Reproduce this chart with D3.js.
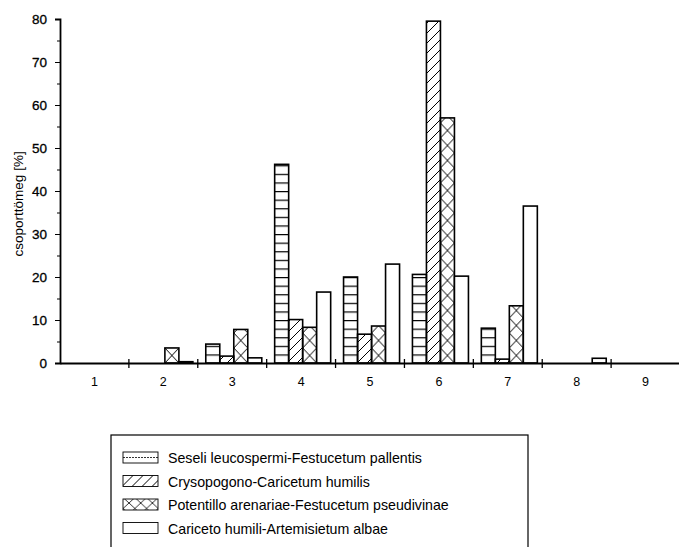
<!doctype html>
<html lang="en">
  <head>
    <meta charset="utf-8">
    <title>csoporttömeg</title>
    <script src="https://d3js.org/d3.v7.min.js"></script>
    <style>
    body { margin: 0; background: #fff; }
    svg { font-family: "Liberation Sans", Arial, sans-serif; }
    .axis path, .axis line { stroke: #000; }
    .axis text { fill: #000; font-size: 12.5px; }
    </style>
  </head>
  <body>
    <svg width="679" height="547"></svg>
    <script>
      var categories = ['1', '2', '3', '4', '5', '6', '7', '8', '9'];
      var seriesNames = [
        'Seseli leucospermi-Festucetum pallentis',
        'Crysopogono-Caricetum humilis',
        'Potentillo arenariae-Festucetum pseudivinae',
        'Cariceto humili-Artemisietum albae'
      ];
      var seseli      = [0, 0,   4.4, 46.2, 20,  20.6, 8.1,  0,   0];
      var crysopogono = [0, 0,   1.6, 10.1, 6.7, 79.5, 0.9,  0,   0];
      var potentillo  = [0, 3.5, 7.8, 8.3,  8.6, 57,   13.3, 0,   0];
      var cariceto    = [0, 0.3, 1.2, 16.5, 23,  20.2, 36.5, 1.1, 0];
      var yTicks = [0, 10, 20, 30, 40, 50, 60, 70, 80];
      var seriesValues = [seseli, crysopogono, potentillo, cariceto];

      var svg = d3.select('svg');
      var defs = svg.append('defs');

      var x = d3.scaleBand().domain(categories).range([60, 680]);
      var inner = d3.scaleBand().domain(d3.range(4)).range([8, 64]);
      var y = d3.scaleLinear().domain([0, 80]).range([363, 19]);

      // hatch patterns
      var hPat = defs.append('pattern').attr('id', 'hatch-h')
        .attr('patternUnits', 'userSpaceOnUse')
        .attr('width', 10).attr('height', 8.6).attr('y', y(0));
      hPat.append('line').attr('x1', 0).attr('x2', 10).attr('y1', 0.5).attr('y2', 0.5)
        .attr('stroke', '#000').attr('stroke-width', 1.4);

      var dPat = defs.append('pattern').attr('id', 'hatch-d')
        .attr('patternUnits', 'userSpaceOnUse')
        .attr('width', 10).attr('height', 10);
      dPat.append('path').attr('d', 'M-2,12 L12,-2 M-2,2 L2,-2 M8,12 L12,8')
        .attr('stroke', '#000').attr('stroke-width', 1);

      categories.forEach(function(c, i){
        var w = inner.bandwidth();
        var p = defs.append('pattern').attr('id', 'hatch-x' + i)
          .attr('patternUnits', 'userSpaceOnUse')
          .attr('x', x(c) + inner(2)).attr('y', y(0))
          .attr('width', w).attr('height', 15);
        p.append('path').attr('d', 'M0,0 L' + w + ',15 M' + w + ',0 L0,15')
          .attr('stroke', '#000').attr('stroke-width', 1);
      });

      var legX = defs.append('pattern').attr('id', 'hatch-xl')
        .attr('patternUnits', 'userSpaceOnUse')
        .attr('width', 11.7).attr('height', 11).attr('x', 123).attr('y', 499);
      legX.append('path').attr('d', 'M0,0 L11.7,11 M11.7,0 L0,11')
        .attr('stroke', '#000').attr('stroke-width', 0.8);

      function fillFor(s, i){
        if (s === 0) return 'url(#hatch-h)';
        if (s === 1) return 'url(#hatch-d)';
        if (s === 2) return 'url(#hatch-x' + i + ')';
        return '#fff';
      }

      // bars
      seriesValues.forEach(function(vals, s){
        svg.append('g').selectAll('rect')
          .data(vals.map(function(v, i){ return {v: v, i: i}; }).filter(function(d){ return d.v > 0; }))
          .enter().append('rect')
            .attr('x', function(d){ return x(categories[d.i]) + inner(s); })
            .attr('width', inner.bandwidth())
            .attr('y', function(d){ return y(d.v); })
            .attr('height', function(d){ return y(0) - y(d.v); })
            .attr('fill', function(d){ return fillFor(s, d.i); })
            .attr('stroke', '#000')
            .attr('stroke-width', 1.6);
      });

      // y axis
      svg.append('g').attr('class', 'axis')
        .attr('transform', 'translate(60,0)')
        .call(d3.axisLeft(y).tickValues(yTicks).tickSize(5).tickPadding(8))
        .call(function(g){ g.select('.domain').attr('stroke-width', 1.8); })
        .selectAll('text').style('font-size', '13.5px').attr('stroke', '#000').attr('stroke-width', 0.3);

      svg.append('g').attr('class', 'axis')
        .attr('transform', 'translate(60,0)')
        .call(d3.axisLeft(y).tickValues(d3.range(5, 80, 10)).tickSize(3).tickFormat(''))
        .select('.domain').remove();

      // x axis
      svg.append('g').attr('class', 'axis')
        .attr('transform', 'translate(0,' + y(0) + ')')
        .call(d3.axisBottom(x).tickSize(0).tickPadding(14).tickSizeOuter(0))
        .call(function(g){ g.select('.domain').attr('stroke-width', 1.8); });

      svg.append('g').selectAll('line')
        .data(categories.slice(0, 8))
        .enter().append('line')
          .attr('x1', function(d){ return x(d) + x.bandwidth(); })
          .attr('x2', function(d){ return x(d) + x.bandwidth(); })
          .attr('y1', y(0) - 4).attr('y2', y(0) + 5)
          .attr('stroke', '#000').attr('stroke-width', 1.3);

      svg.append('text')
        .attr('transform', 'translate(23,' + y(37) + ') rotate(-90)')
        .attr('text-anchor', 'middle')
        .style('font-size', '13.5px')
        .text('csoporttömeg [%]');

      // legend
      var legend = svg.append('g');
      legend.append('rect').attr('x', 111).attr('y', 435)
        .attr('width', 417).attr('height', 130)
        .attr('fill', 'none').attr('stroke', '#000').attr('stroke-width', 1.2);

      var legFills = ['none', 'url(#hatch-d)', 'url(#hatch-xl)', '#fff'];
      var row = legend.selectAll('g.row').data(seriesNames).enter()
        .append('g').attr('class', 'row')
        .attr('transform', function(d, i){ return 'translate(123,' + (452 + i * 23.5) + ')'; });
      row.append('rect').attr('width', 35).attr('height', 11)
        .attr('fill', function(d, i){ return legFills[i]; })
        .attr('stroke', '#000').attr('stroke-width', 0.9);
      row.filter(function(d, i){ return i === 0; }).append('line')
        .attr('x1', 0).attr('x2', 35).attr('y1', 5.5).attr('y2', 5.5)
        .attr('stroke', '#000').attr('stroke-width', 0.8).attr('stroke-dasharray', '2,1');
      row.append('text').attr('x', 45).attr('y', 11)
        .style('font-size', '14.2px')
        .text(function(d){ return d; });
    </script>
  </body>
</html>
